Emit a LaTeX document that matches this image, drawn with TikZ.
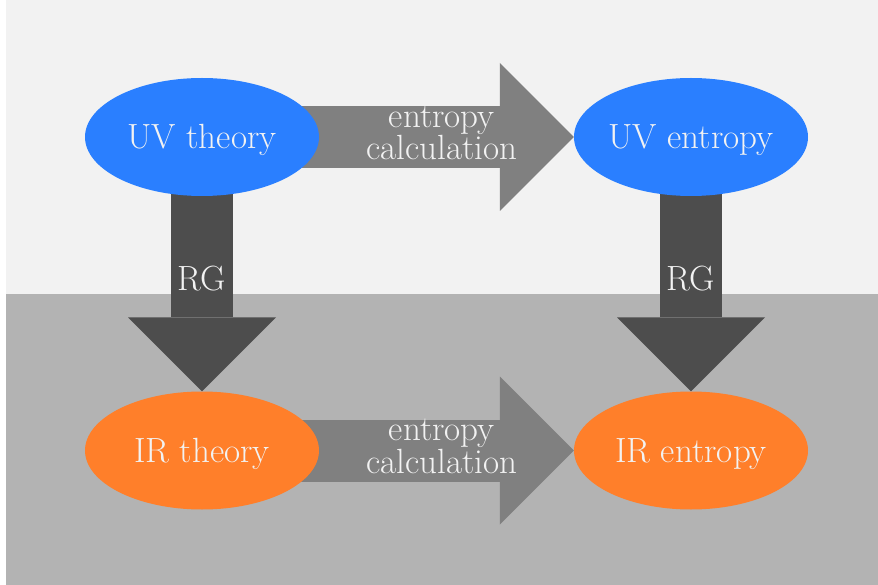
\documentclass[tikz,border=0pt]{standalone}
\usepackage{fontspec}
\usetikzlibrary{shapes.geometric,arrows.meta}
\definecolor{uvblue}{HTML}{2A7FFF}
\definecolor{irorange}{HTML}{FF7F2A}
\definecolor{topgray}{HTML}{F2F2F2}
\definecolor{botgray}{HTML}{B3B3B3}
\definecolor{calcgray}{HTML}{808080}
\definecolor{rggray}{HTML}{4D4D4D}
\pgfdeclarelayer{bg}
\pgfdeclarelayer{arrows}
\pgfsetlayers{bg,arrows,main}

\begin{document}
\begin{tikzpicture}[x=1pt,y=-1pt,
    blob/.style={ellipse,minimum width=234pt,minimum height=118pt,inner sep=0pt,
      text height=24pt,text depth=0pt,text=topgray,font=\fontsize{35}{26}\selectfont},
    uvblob/.style={blob,fill=uvblue},
    irblob/.style={blob,fill=irorange},
    fat/.style={line width=62pt,-{Triangle[width=148pt,length=74pt,line width=0pt]}},
    calcarrow/.style={fat,draw=calcgray},
    rgarrow/.style={fat,draw=rggray},
    lbl/.style={text=topgray,inner sep=0pt,align=center,font=\fontsize{35}{26}\selectfont}]

    \useasboundingbox (0,0) rectangle (878,585);

    %draw the two bands
    \begin{pgfonlayer}{bg}
    \fill[topgray] (6,0) rectangle (878,294);
    \fill[botgray] (6,294) rectangle (878,585);
    \end{pgfonlayer}

    %draw the four ellipses
    \node[uvblob] (uvtheory)  at (202,137)   {UV theory};
    \node[uvblob] (uventropy) at (691,137)   {UV entropy};
    \node[irblob] (irtheory)  at (202,450.5) {IR theory};
    \node[irblob] (irentropy) at (691,450.5) {IR entropy};

    %draw the block arrows
    \begin{pgfonlayer}{arrows}
    \draw[calcarrow] (uvtheory.center) -- node[lbl,pos=.645,yshift=4pt] (uvcalc) {entropy\\calculation} (uventropy);
    \draw[calcarrow] (irtheory.center) -- node[lbl,pos=.645,yshift=4pt] (ircalc) {entropy\\calculation} (irentropy);
    \draw[rgarrow] (uvtheory.center) -- node[lbl,pos=.555] (rgleft) {RG} (irtheory);
    \draw[rgarrow] (uventropy.center) -- node[lbl,pos=.555] (rgright) {RG} (irentropy);
    \end{pgfonlayer}

\end{tikzpicture}
\end{document}
